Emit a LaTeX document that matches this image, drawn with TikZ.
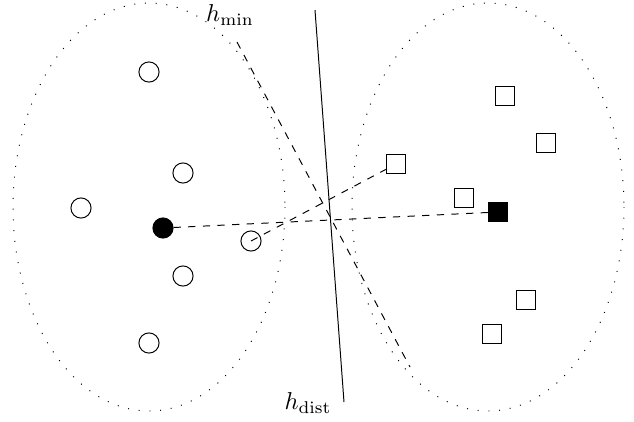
\documentclass[tikz,border=0pt]{standalone}
\usetikzlibrary{positioning}

\begin{document}
\begin{tikzpicture}[x=0.0144cm,y=-0.0144cm,ob/.style={draw,circle,minimum size=2.9mm,inner sep=0pt},sqobj/.style={draw,rectangle,minimum size=2.8mm,inner sep=0pt},link/.style={dashed},hyp/.style={draw}]
\useasboundingbox (0,0) rectangle (634,421);
% class regions
\draw[loosely dotted] (149,207) ellipse [x radius=136,y radius=204];
\draw[loosely dotted] (488,207) ellipse [x radius=136,y radius=204];
% circles
\node[ob] (c1) at (149,72) {};
\node[ob] (c2) at (183,173) {};
\node[ob] (c3) at (81,208) {};
\node[ob,fill=black] (cm) at (163,228) {};
\node[ob] (cn) at (251,241) {};
\node[ob] (c4) at (183,276) {};
\node[ob] (c5) at (149,343) {};
% squares
\node[sqobj] (s1) at (505,96) {};
\node[sqobj] (s2) at (546,143) {};
\node[sqobj] (sn) at (396,164) {};
\node[sqobj] (s3) at (464,198) {};
\node[sqobj,fill=black] (sm) at (498,212) {};
\node[sqobj] (s4) at (526,300) {};
\node[sqobj] (s5) at (492,334) {};
% separating lines
\coordinate (dtop) at (315,10);
\coordinate (dbot) at (344,402);
\coordinate (mtop) at (237,42);
\coordinate (mbot) at (410,367);
\draw[hyp] (dtop) -- (dbot);
\draw[link] (mtop) -- (mbot);
\draw[link] (cm) -- (sm);
\draw[link] (cn.center) -- (sn);
\node (hmin) at (230,15) {$h_{\min}$};
\node (hdist) at (308,403) {$h_{\mathrm{dist}}$};
\end{tikzpicture}
\end{document}
